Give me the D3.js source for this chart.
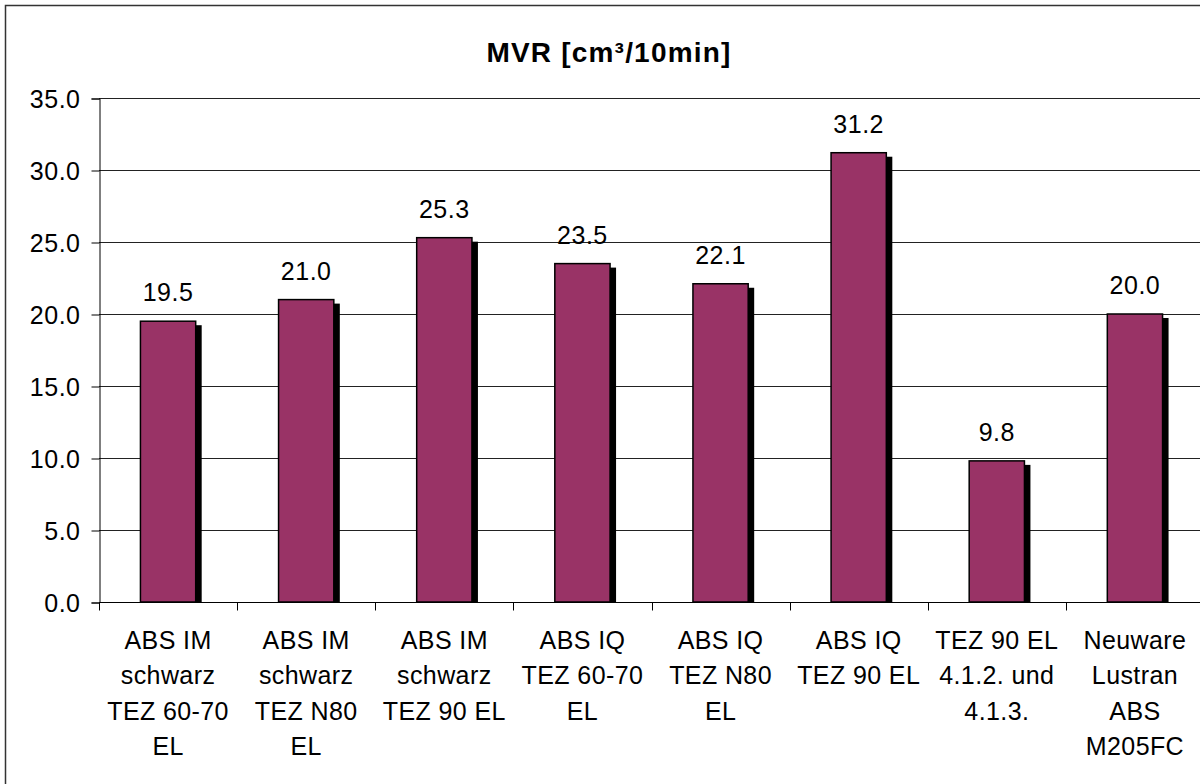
<!DOCTYPE html>
<html>
<head>
<meta charset="utf-8">
<script src="https://cdn.jsdelivr.net/npm/d3@7"></script>
<style>
  body { margin: 0; background: #fff; overflow: hidden; }
  text { font-family: "Liberation Sans", Arial, sans-serif; fill: #000; }
</style>
</head>
<body>
<div id="mvr-chart"></div>
<script>
// chart data
let categories = [
    ["ABS IM", "schwarz", "TEZ 60-70", "EL"],
    ["ABS IM", "schwarz", "TEZ N80", "EL"],
    ["ABS IM", "schwarz", "TEZ 90 EL"],
    ["ABS IQ", "TEZ 60-70", "EL"],
    ["ABS IQ", "TEZ N80", "EL"],
    ["ABS IQ", "TEZ 90 EL"],
    ["TEZ 90 EL", "4.1.2. und", "4.1.3."],
    ["Neuware", "Lustran", "ABS", "M205FC"]
];
let mvrValues = [19.5, 21.0, 25.3, 23.5, 22.1, 31.2, 9.8, 20.0];
let yTicks = [0, 5, 10, 15, 20, 25, 30, 35];
let chartTitle = "MVR [cm³/10min]";

let mvrmargin = {top: 98, left: 99}
    , mvrwidth = 1105   // plot runs past the right edge, like the original
    , mvrheight = 504;

let svg = d3.select("#mvr-chart").append("svg")
    .attr("width", 1200)
    .attr("height", 784);

// outer frame (clipped on right/bottom)
svg.append("rect")
    .attr("x", 5.5).attr("y", 5.5)
    .attr("width", 1300).attr("height", 900)
    .attr("fill", "none")
    .attr("stroke", "#333")
    .attr("stroke-width", 1.5);

svg.append("text")
    .attr("x", 609)
    .attr("y", 62)
    .attr("text-anchor", "middle")
    .style("font-size", "28px")
    .style("font-weight", "bold")
    .style("letter-spacing", "1.2px")
    .text(chartTitle);

let g = svg.append("g")
    .attr("transform", "translate(" + mvrmargin.left + "," + mvrmargin.top + ")");

let idx = d3.range(mvrValues.length);

let x = d3.scaleBand()
    .domain(idx)
    .range([0, mvrwidth])
    .paddingInner(0.6)
    .paddingOuter(0.3);

let y = d3.scaleLinear()
    .domain([0, 35])
    .range([mvrheight, 0]);

// gridlines
g.selectAll(".grid")
    .data(yTicks)
    .enter().append("line")
    .attr("class", "grid")
    .attr("x1", 0).attr("x2", mvrwidth)
    .attr("y1", d => Math.round(y(d)) + 0.5)
    .attr("y2", d => Math.round(y(d)) + 0.5)
    .attr("stroke", "#222")
    .attr("stroke-width", 1);

// y axis
let yAxis = g.append("g")
    .attr("class", "yaxis")
    .attr("transform", "translate(0.5,0.5)")
    .call(d3.axisLeft(y).tickValues(yTicks).tickSize(8).tickPadding(11).tickFormat(d3.format(".1f")));
yAxis.select(".domain").attr("stroke", "#000");
yAxis.selectAll("line").attr("stroke", "#000");
yAxis.selectAll("text")
    .style("font-size", "25px")
    .style("letter-spacing", "0.5px")
    .attr("font-family", null)
    .attr("dy", "0.36em");

// x axis with ticks between categories
let step = x.step();
let xAxis = g.append("g")
    .attr("class", "xaxis")
    .attr("transform", "translate(0," + (mvrheight + 0.5) + ")");
xAxis.append("line")
    .attr("x1", 0).attr("x2", mvrwidth)
    .attr("stroke", "#000");
xAxis.selectAll(".xtick")
    .data(d3.range(mvrValues.length + 1))
    .enter().append("line")
    .attr("class", "xtick")
    .attr("x1", d => Math.round(d * step) + 0.5)
    .attr("x2", d => Math.round(d * step) + 0.5)
    .attr("y1", 0).attr("y2", 8)
    .attr("stroke", "#000");

let catLabels = xAxis.selectAll(".catlabel")
    .data(categories)
    .enter().append("text")
    .attr("class", "catlabel")
    .attr("text-anchor", "middle")
    .style("font-size", "25px")
    .style("letter-spacing", "0.4px")
    .attr("transform", (d, i) => "translate(" + (i * step + step / 2) + ",46)");
catLabels.selectAll("tspan")
    .data(d => d)
    .enter().append("tspan")
    .attr("x", 0)
    .attr("y", (d, i) => i * 35.5)
    .text(d => d);

// shadows then bars
g.selectAll(".shadow")
    .data(mvrValues)
    .enter().append("rect")
    .attr("class", "shadow")
    .attr("x", (d, i) => x(i) + 6)
    .attr("y", d => y(d) + 4)
    .attr("width", x.bandwidth())
    .attr("height", d => mvrheight - y(d) - 4)
    .style("fill", "#000");

g.selectAll(".bar")
    .data(mvrValues)
    .enter().append("rect")
    .attr("class", "bar")
    .attr("x", (d, i) => x(i))
    .attr("y", d => y(d))
    .attr("width", x.bandwidth())
    .attr("height", d => mvrheight - y(d))
    .style("fill", "#993366")
    .style("stroke", "#000")
    .style("stroke-width", 1.5);

g.selectAll(".valtext")
    .data(mvrValues)
    .enter().append("text")
    .attr("class", "valtext")
    .attr("text-anchor", "middle")
    .style("font-size", "25px")
    .style("letter-spacing", "0.5px")
    .attr("x", (d, i) => x(i) + x.bandwidth() / 2)
    .attr("y", d => y(d) - 20)
    .text(d => d.toFixed(1));
</script>
</body>
</html>
